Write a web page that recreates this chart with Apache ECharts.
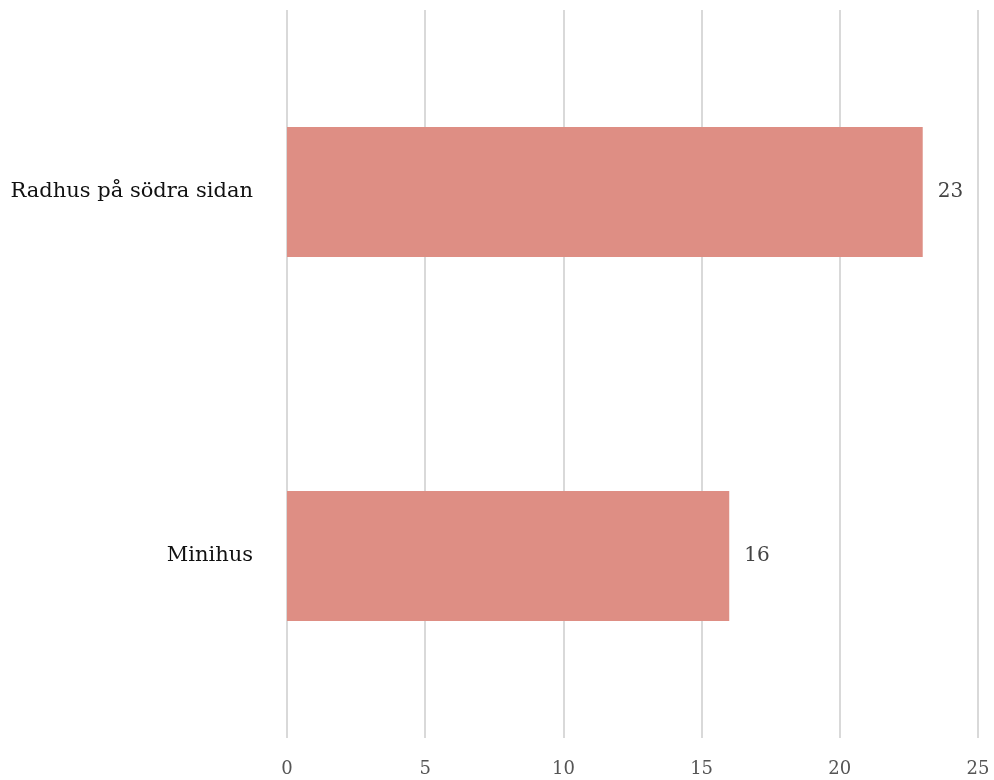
<!DOCTYPE html>
<html><head><meta charset="utf-8">
<script src="https://cdn.jsdelivr.net/npm/echarts@6/dist/echarts.min.js"></script>
<style>html,body{margin:0;padding:0;background:#fff}#c{width:994px;height:780px}</style>
</head><body><div id="c"></div>
<script>
const categories = ["Minihus", "Radhus på södra sidan"];
const values = [16, 23];
const xTicks = [0, 5, 10, 15, 20, 25];

const chart = echarts.init(document.getElementById('c'));
chart.setOption({
  animation: false,
  grid: {left: 287, right: 16, top: 10, bottom: 42, containLabel: false},
  xAxis: {
    type: 'value', min: xTicks[0], max: xTicks[xTicks.length-1], interval: 5,
    axisLine: {show: false}, axisTick: {show: false},
    splitLine: {lineStyle: {color: '#d9d9d9', width: 2}},
    axisLabel: {color: '#555', fontFamily: 'DejaVu Serif', fontSize: 18, margin: 22}
  },
  yAxis: {
    type: 'category', data: categories,
    axisLine: {show: false}, axisTick: {show: false},
    axisLabel: {color: '#111', fontFamily: 'DejaVu Serif', fontSize: 21, margin: 34}
  },
  series: [{
    type: 'bar', data: values, barWidth: '35.7%',
    itemStyle: {color: '#DE8E84'},
    label: {show: true, position: 'right', distance: 15, color: '#444', fontFamily: 'DejaVu Serif', fontSize: 20}
  }]
});
</script></body></html>
